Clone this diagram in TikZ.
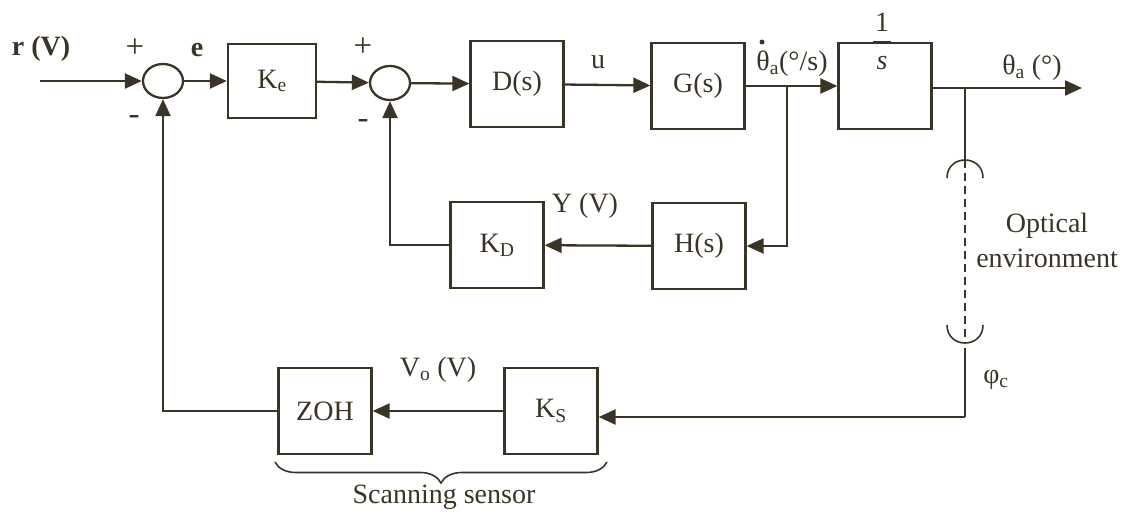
\documentclass[tikz,border=0pt]{standalone}
\usepackage{fontspec}
\setmainfont{Liberation Serif}
\usetikzlibrary{arrows.meta,shapes.geometric,decorations.pathreplacing}
\definecolor{ink}{RGB}{58,52,38}
\begin{document}
\begin{tikzpicture}[x=1pt,y=-1pt,line width=2.3pt,color=ink,
  every node/.style={font=\fontsize{28}{35}\selectfont},
  blk/.style={draw,rectangle,minimum width=93pt,minimum height=86pt,inner sep=0pt},
  sumj/.style={draw,ellipse,minimum width=40pt,minimum height=34pt,inner sep=0pt},
  arr/.style={-{Triangle[length=17pt,width=15pt]}},
  lbl/.style={inner sep=0pt},
  sgn/.style={inner sep=0pt,font=\fontsize{33}{35}\selectfont}]
\useasboundingbox (0,0) rectangle (1127,512);
% main forward path
\node[sumj] (s1) at (163,81) {};
\node[blk,minimum width=88pt,minimum height=74pt] (Ke) at (272,81) {K\textsubscript{e}};
\node[sumj] (s2) at (390,83) {};
\node[blk] (D) at (517,84) {D(s)};
\node[blk] (G) at (698,86) {G(s)};
\node[blk] (I) at (885,86) {};
\node[blk] (H) at (699,246) {H(s)};
\node[blk] (KD) at (497,245) {K\textsubscript{D}};
\node[blk] (KS) at (551,411) {K\textsubscript{S}};
\node[blk] (ZOH) at (325,411) {ZOH};
\coordinate (in) at (40,81);
\coordinate (out) at (1082,88);
\coordinate (b1) at (787,86);
\coordinate (b2) at (965,88);
\coordinate (t1) at (965,160);
\coordinate (t2) at (965,348);
\coordinate (c2) at (965,417);
% connectors
\draw[arr] (in) -- (s1);
\draw[arr] (s1) -- (Ke);
\draw[arr] (Ke) -- (s2);
\draw[arr] (s2) -- (D);
\draw[arr] (D) -- (G);
\draw[arr] (G) -- (I);
\draw[arr] (I.east |- out) -- (out);
\draw[arr] (b1) |- (H.east);
\draw[arr] (H) -- (KD);
\draw[arr] (KD.west) -| (s2.south);
\draw[arr] (c2) -- (c2 -| KS.east);
\draw[arr] (KS.west |- ZOH) -- (ZOH);
\draw[arr] (ZOH.west) -| (s1.south);
% optical environment
\draw (b2) -- (t1);
\draw[line width=1.6pt] (947,178) .. controls (947,154) and (983,154) .. (983,178);
\draw[line width=1.6pt] (947,325) .. controls (947,349) and (983,349) .. (983,325);
\draw[line width=1.7pt,dash pattern=on 8pt off 5pt] (t1) -- (965,343);
\draw (t2) -- (c2);
% 1/s label
\node[lbl] (one) at (882,22) {1};
\draw[line width=1.8pt] (873,42) -- (891,42);
\node[lbl] (sv) at (882,63) {\textit{s}};
% labels
\node[lbl] (rV) at (41,49) {\textbf{r (V)}};
\node[sgn] (p1) at (135,48) {+};
\node[sgn] (m1) at (134,120) {-};
\node[lbl] (e) at (197,50) {\textbf{e}};
\node[sgn] (p2) at (363,47) {+};
\node[sgn] (m2) at (363,124) {-};
\node[lbl] (u) at (598,62) {u};
\node[lbl] (thd) at (792,64) {θ\textsubscript{a}(°/s)};
\fill (762,42) circle (2.5);
\node[lbl] (tha) at (1032,68) {θ\textsubscript{a} (°)};
\node[lbl] (Y) at (585,206) {Y (V)};
\node[lbl,align=center] (opt) at (1047,240) {Optical\\environment};
\node[lbl] (phi) at (996,380) {φ\textsubscript{c}};
\node[lbl] (Vo) at (438,370) {V\textsubscript{o} (V)};
\draw[line width=1.6pt,decorate,decoration={brace,mirror,amplitude=21pt}] (275,462) -- (607,462);
\node[lbl] (scan) at (444,497) {Scanning sensor};
\end{tikzpicture}
\end{document}
